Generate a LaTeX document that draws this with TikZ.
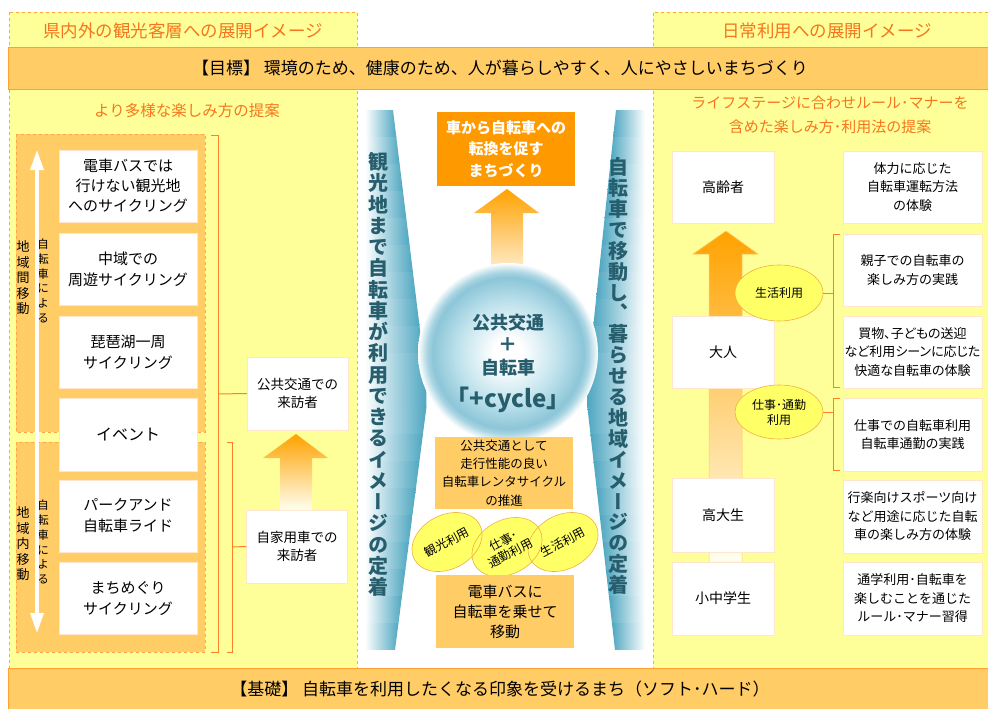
\documentclass[tikz,border=0pt]{standalone}
\usepackage{fontspec}
\setmainfont{Noto Sans CJK JP}
\newfontfamily\pfont{Noto Sans CJK JP}[RawFeature=+palt]
\newfontfamily\vfont{Noto Sans CJK JP}[RawFeature=+vert]
\usepackage{graphicx}
\usetikzlibrary{shapes.geometric,arrows.meta}
\definecolor{panelY}{HTML}{FFFF99}
\definecolor{dashO}{HTML}{FFA646}
\definecolor{barO}{HTML}{FFCC66}
\definecolor{barLine}{HTML}{FFA030}
\definecolor{hdrO}{HTML}{F5761E}
\definecolor{deepO}{HTML}{FF9900}
\definecolor{brk}{HTML}{FF7F27}
\definecolor{ellY}{HTML}{FFFF66}
\definecolor{ellLine}{HTML}{F0B040}
\definecolor{tealD}{HTML}{4FA7C1}
\definecolor{tealM}{HTML}{8CC6D8}
\definecolor{tealL}{HTML}{BFE2EC}
\definecolor{tealT}{HTML}{275E6E}
\definecolor{boxLine}{HTML}{FFE6CC}
\definecolor{arrTop}{HTML}{FFA200}
\definecolor{arrMid}{HTML}{FFE94D}
\definecolor{arrBot}{HTML}{FFFFF0}
\pgfdeclareradialshading{glow}{\pgfpoint{0bp}{0bp}}{color(0bp)=(white); color(4bp)=(white); color(14bp)=(tealL); color(21bp)=(tealM); color(22.5bp)=(tealM!75!white); color(25bp)=(white); color(50bp)=(white)}
\begin{document}
\begin{tikzpicture}[x=1pt,y=-1pt,
  wbox/.style={draw=boxLine, fill=white, align=center, inner sep=0pt, text=black},
  obox/.style={fill=barO, align=center, inner sep=0pt},
  hdr/.style={text=hdrO, align=center, inner sep=0pt},
  ellt/.style={inner sep=0pt, align=center, font=\fontsize{12}{14}\selectfont},
  ell/.style={ellipse, draw=ellLine, fill=ellY, inner sep=0pt, align=center, line width=0.6pt},
  brkline/.style={draw=brk, line width=1pt},
  vtext/.style={align=center, inner sep=0pt},
  garrow/.style={top color=arrTop, middle color=arrMid, bottom color=arrBot},
]
\useasboundingbox (0,0) rectangle (988,709);
\fill[white] (0,0) rectangle (988,709);

% panels
\fill[panelY] (9,12) rectangle (357,668);
\draw[dashO, dashed, line width=0.7pt] (9,12) rectangle (357,668);
\fill[panelY] (653,12) rectangle (988,668);
\draw[dashO, dashed, line width=0.7pt] (988,12) -- (653,12) -- (653,668) -- (988,668);

% bars
\fill[barO] (8,47) rectangle (988,89);
\draw[barLine, line width=0.6pt] (988,47) -- (8,47) -- (8,89) -- (988,89);
\fill[barO] (8,668) rectangle (988,709);
\draw[barLine, line width=0.6pt] (988,668) -- (8,668) -- (8,709);

\node[inner sep=0pt, font=\fontsize{17}{20}\selectfont] (goal) at (500,68) {【目標】 環境のため、健康のため、人が暮らしやすく、人にやさしいまちづくり};
\node[inner sep=0pt, font=\fontsize{17}{20}\selectfont] (base) at (500,689) {【基礎】 自転車を利用したくなる印象を受けるまち（ソフト･ハード）};

% headers
\node[hdr, font=\fontsize{17.5}{20}\selectfont] (h1) at (183,31) {県内外の観光客層への展開イメージ};
\node[hdr, font=\fontsize{17.5}{20}\selectfont] (h2) at (827,31) {日常利用への展開イメージ};
\node[hdr, font=\fontsize{15.5}{18}\selectfont] (sub1) at (187,111) {より多様な楽しみ方の提案};
\node[hdr, font=\fontsize{15}{24}\selectfont] (sub2) at (830,115) {ライフステージに合わせルール･マナーを\\含めた楽しみ方･利用法の提案};

% left inner boxes
\fill[barO] (16,134) rectangle (205,432);
\draw[dashO, dashed, line width=0.6pt] (16,134) rectangle (205,432);
\fill[barO] (16,442) rectangle (205,652);
\draw[dashO, dashed, line width=0.6pt] (16,442) rectangle (205,652);

\node[vtext, font=\fontsize{13}{15.5}\selectfont] (lab1) at (23,278) {地\\域\\間\\移\\動};
\node[vtext, font=\fontsize{11.5}{14.8}\selectfont] (lab2) at (43,281) {自\\転\\車\\に\\よ\\る};
\node[vtext, font=\fontsize{13}{15.5}\selectfont] (lab3) at (23,544) {地\\域\\内\\移\\動};
\node[vtext, font=\fontsize{11.5}{14.8}\selectfont] (lab4) at (43,542) {自\\転\\車\\に\\よ\\る};
\coordinate (arrTopPt) at (37,150);
\coordinate (arrBotPt) at (37,633);
\draw[white, line width=3.5pt, {Triangle[length=20pt,width=13pt]}-{Triangle[length=20pt,width=13pt]}] (arrTopPt) -- (arrBotPt);

\node[wbox, minimum width=138, minimum height=72, font=\fontsize{15}{20}\selectfont] (l1) at (128,186) {電車バスでは\\行けない観光地\\へのサイクリング};
\node[wbox, minimum width=138, minimum height=72, font=\fontsize{15}{21}\selectfont] (l2) at (128,269) {中域での\\周遊サイクリング};
\node[wbox, minimum width=138, minimum height=72, font=\fontsize{15}{21}\selectfont] (l3) at (128,352) {琵琶湖一周\\サイクリング};
\node[wbox, minimum width=138, minimum height=73, font=\fontsize{16}{21}\selectfont] (l4) at (128,434.5) {イベント};
\node[wbox, minimum width=138, minimum height=72, font=\fontsize{15}{21}\selectfont] (l5) at (128,516) {パークアンド\\自転車ライド};
\node[wbox, minimum width=138, minimum height=72, font=\fontsize{15}{21}\selectfont] (l6) at (128,598) {まちめぐり\\サイクリング};

% left brackets
\draw[brkline] (211,135) -- (218,135) -- (218,652) -- (211,652);
\draw[brkline] (227,442) -- (232,442) -- (232,652) -- (227,652);

\node[wbox, minimum width=101, minimum height=73, font=\fontsize{13.5}{18}\selectfont] (v1) at (297.5,393.5) {公共交通での\\来訪者};
\node[wbox, minimum width=101, minimum height=73, font=\fontsize{13.5}{18}\selectfont] (v2) at (297,546.5) {自家用車での\\来訪者};
\draw[brkline] (218,394) -- (v1.west);
\draw[brkline] (232,547) -- (v2.west);
\shade[garrow] (296,434) -- (328,458) -- (312,458) -- (312,510) -- (280,510) -- (280,458) -- (263,458) -- cycle;

% center wedges
\foreach \i in {0,...,19}{
  \pgfmathsetmacro\ya{110+27*\i}
  \pgfmathsetmacro\yb{137.6+27*\i}
  \pgfmathsetmacro\xa{\ya<395 ? 393+(\ya-110)/285*35 : 428-(\ya-395)/255*33}
  \pgfmathsetmacro\xb{\yb<395 ? 393+(\yb-110)/285*35 : 428-(\yb-395)/255*33}
  \shade[left color=white, middle color=tealL, right color=tealD] (365,\ya) -- (\xa,\ya) -- (\xb,\yb) -- (365,\yb) -- cycle;
  \pgfmathsetmacro\xc{\ya<395 ? 616-(\ya-110)/285*30 : 586+(\ya-395)/255*29}
  \pgfmathsetmacro\xd{\yb<395 ? 616-(\yb-110)/285*30 : 586+(\yb-395)/255*29}
  \shade[left color=tealD, middle color=tealL, right color=white] (\xc,\ya) -- (645,\ya) -- (645,\yb) -- (\xd,\yb) -- cycle;
}
\fill[white] (360,650) rectangle (650,668);

\node[vtext, text=tealT, font=\vfont\bfseries\fontsize{20}{21.25}\selectfont] (wl) at (378,374.5) {観\\光\\地\\ま\\で\\自\\転\\車\\が\\利\\用\\で\\き\\る\\イ\\メ\\ー\\ジ\\の\\定\\着};
\node[vtext, text=tealT, font=\vfont\bfseries\fontsize{20}{20.9}\selectfont] (wr) at (618,376) {自\\転\\車\\で\\移\\動\\し\\、\\暮\\ら\\せ\\る\\地\\域\\イ\\メ\\ー\\ジ\\の\\定\\着};

% center top
\node[fill=deepO, minimum width=138, minimum height=74, inner sep=0pt, align=center, text=white, font=\bfseries\fontsize{15}{21.5}\selectfont] (goalbox) at (506,149) {車から自転車への\\転換を促す\\まちづくり};
\shade[garrow, bottom color=white] (507,189) -- (539,213) -- (523,213) -- (523,290) -- (491,290) -- (491,213) -- (474,213) -- cycle;
\shade[shading=glow] (508,353) circle (90);
\node[inner sep=0pt, text=tealT, font=\bfseries\fontsize{18}{20}\selectfont] (c1) at (508,323) {公共交通};
\node[inner sep=0pt, text=tealT, font=\bfseries\fontsize{19}{20}\selectfont] (c2) at (508,345) {＋};
\node[inner sep=0pt, text=tealT, font=\bfseries\fontsize{18}{20}\selectfont] (c3) at (508,368) {自転車};
\node[inner sep=0pt, text=tealT, font=\bfseries\fontsize{24}{26}\selectfont] (c4) at (508,400) {「+cycle」};

\node[obox, minimum width=138, minimum height=72, font=\fontsize{12.5}{18.3}\selectfont] (rent) at (504,473) {公共交通として\\走行性能の良い\\自転車レンタサイクル\\の推進};
% ellipses: fills, outlines, then texts
\coordinate (e1) at (447,542);
\coordinate (e2) at (507,547);
\coordinate (e3) at (563,542);
\foreach \p in {e1,e2,e3}{
  \fill[ellY, rotate around={28:(\p)}] (\p) ellipse (37 and 27);
}
\foreach \p in {e1,e2,e3}{
  \draw[ellLine, line width=0.6pt, rotate around={28:(\p)}] (\p) ellipse (37 and 27);
}
\node[ellt, rotate=28] (e1t) at (e1) {観光利用};
\node[ellt, rotate=28] (e2t) at (e2) {仕事･\\通勤利用};
\node[ellt, rotate=28] (e3t) at (e3) {生活利用};
\node[obox, minimum width=138, minimum height=73, font=\fontsize{15}{20}\selectfont] (train) at (505,611.5) {電車バスに\\自転車を乗せて\\移動};

% right panel
\shade[top color=arrTop, middle color=arrMid!60!white, bottom color=arrBot, draw=barO, line width=0.5pt] (726,231) -- (758,254) -- (742,254) -- (742,562) -- (709,562) -- (709,254) -- (693,254) -- cycle;
\node[wbox, minimum width=102, minimum height=72, font=\fontsize{14}{18}\selectfont] (r1) at (723,187) {高齢者};
\node[wbox, minimum width=102, minimum height=72, font=\fontsize{14}{18}\selectfont] (r2) at (723,352) {大人};
\node[wbox, minimum width=102, minimum height=74, font=\fontsize{14}{18}\selectfont] (r3) at (723,515) {高大生};
\node[wbox, minimum width=102, minimum height=73, font=\fontsize{14}{18}\selectfont] (r4) at (723,598.5) {小中学生};

\node[ell, minimum width=88, minimum height=56, font=\fontsize{12}{15}\selectfont] (g1) at (779,293) {生活利用};
\node[ell, minimum width=88, minimum height=54, font=\fontsize{12}{15}\selectfont] (g2) at (779,412) {仕事･通勤\\利用};
\draw[brkline] (840,234) -- (833,234) -- (833,387) -- (840,387);
\draw[brkline] (840,398) -- (833,398) -- (833,470) -- (840,470);
\draw[brkline] (g1.east) -- (833,293);
\draw[brkline] (g2.east) -- (833,412);

\node[wbox, minimum width=139, minimum height=72, font=\fontsize{13}{18.5}\selectfont] (s1) at (912.5,187) {体力に応じた\\自転車運転方法\\の体験};
\node[wbox, minimum width=139, minimum height=72, font=\fontsize{13}{18.5}\selectfont] (s2) at (912.5,270) {親子での自転車の\\楽しみ方の実践};
\node[wbox, minimum width=139, minimum height=72, font=\pfont\fontsize{13}{18.5}\selectfont] (s3) at (912.5,352) {買物、子どもの送迎\\など利用シーンに応じた\\快適な自転車の体験};
\node[wbox, minimum width=139, minimum height=73, font=\fontsize{13}{18.5}\selectfont] (s4) at (912.5,434.5) {仕事での自転車利用\\自転車通勤の実践};
\node[wbox, minimum width=139, minimum height=73, font=\fontsize{13}{18.5}\selectfont] (s5) at (912.5,516.5) {行楽向けスポーツ向け\\など用途に応じた自転\\車の楽しみ方の体験};
\node[wbox, minimum width=139, minimum height=73, font=\fontsize{13}{18.5}\selectfont] (s6) at (912.5,598.5) {通学利用･自転車を\\楽しむことを通じた\\ルール･マナー習得};
\end{tikzpicture}
\end{document}
